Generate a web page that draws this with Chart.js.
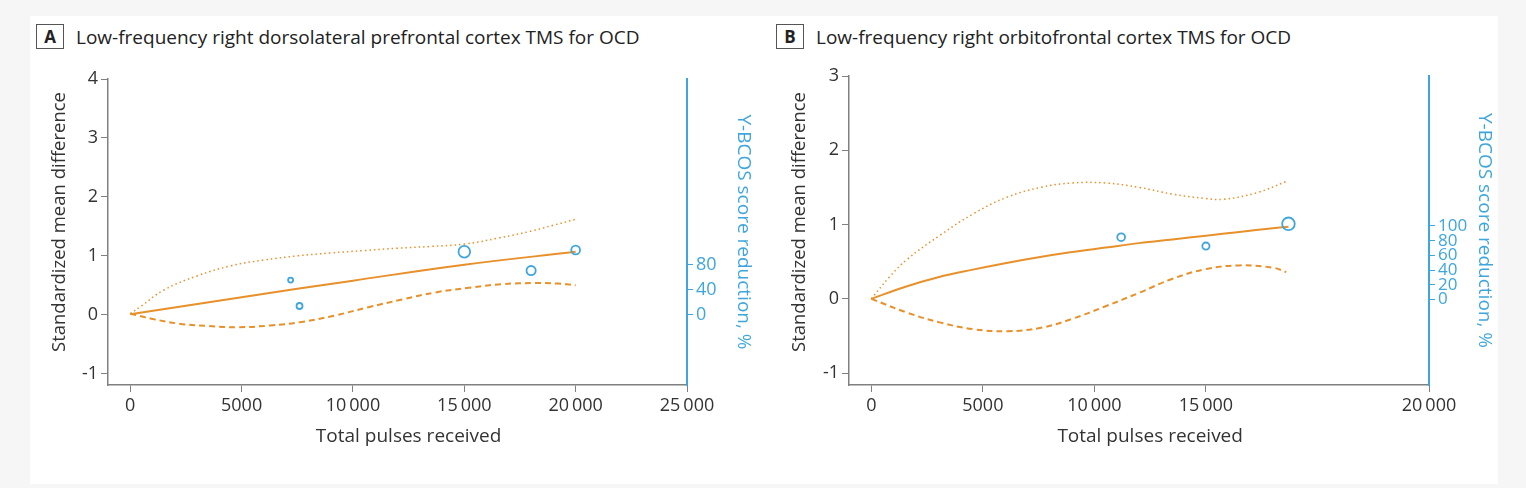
<!DOCTYPE html>
<html>
<head>
<meta charset="utf-8">
<script src="https://cdn.jsdelivr.net/npm/chart.js@4"></script>
<style>
  body { margin: 0; background: #f6f6f6; font-family: "Open Sans", "Noto Sans", sans-serif; }
  #card { position: absolute; left: 30px; top: 16px; width: 1468px; height: 468px; background: #fff; }
  .ptitle { position: absolute; top: 24px; height: 25px; display: flex; align-items: center; color: #222; font-size: 19px; white-space: nowrap; }
  .ptitle .box { box-sizing: border-box; width: 28px; height: 25px; border: 1px solid #555; font-weight: bold; font-size: 17px; display: flex; align-items: center; justify-content: center; margin-right: 12px; }
  canvas { position: absolute; top: 60px; }
</style>
</head>
<body>
<div id="card"></div>
<div class="ptitle" style="left:36px"><span class="box">A</span><span>Low-frequency right dorsolateral prefrontal cortex TMS for OCD</span></div>
<div class="ptitle" style="left:776px"><span class="box">B</span><span>Low-frequency right orbitofrontal cortex TMS for OCD</span></div>
<canvas id="chartA" width="740" height="400" style="left:30px"></canvas>
<canvas id="chartB" width="740" height="400" style="left:770px"></canvas>
<script>
// --- Panel A: dorsolateral prefrontal cortex ---
const studyPulsesA = [7200, 7600, 15000, 18000, 20000];
const studySmdA = [0.59, 0.15, 1.07, 0.75, 1.10];
const fitPulsesA = [0, 5000, 10000, 15000, 20000];
const fitSmdA = [0.01, 0.3, 0.58, 0.85, 1.07];
const upperPulsesA = [0, 500, 1500, 3000, 4500, 6000, 7500, 9000, 10500, 12000, 13500, 15000, 16500, 18000, 19000, 20000];
const upperSmdA = [0.02, 0.15, 0.42, 0.66, 0.83, 0.93, 1.0, 1.05, 1.09, 1.13, 1.16, 1.2, 1.3, 1.42, 1.52, 1.62];
const lowerPulsesA = [0, 1000, 2200, 3500, 4800, 6300, 7700, 9200, 10700, 12200, 13700, 15200, 16700, 18200, 19200, 20000];
const lowerSmdA = [0.02, -0.07, -0.15, -0.19, -0.21, -0.18, -0.12, -0.01, 0.13, 0.26, 0.38, 0.46, 0.52, 0.54, 0.53, 0.5];
const xTicksA = [0, 5000, 10000, 15000, 20000, 25000];
const xTickLabelsA = ['0', '5000', '10000', '15000', '20000', '25000'];
const yTicksA = [-1, 0, 1, 2, 3, 4];
const ybocsTicksA = [0, 40, 80];

// --- Panel B: orbitofrontal cortex ---
const studyPulsesB = [11200, 15000, 18700];
const studySmdB = [0.83, 0.71, 1.01];
const fitPulsesB = [0, 1500, 3000, 4500, 6000, 7500, 9000, 10500, 12000, 13500, 15000, 16500, 18000, 18700];
const fitSmdB = [0, 0.16, 0.29, 0.39, 0.48, 0.56, 0.63, 0.69, 0.75, 0.8, 0.85, 0.9, 0.95, 0.97];
const upperPulsesB = [0, 800, 1600, 3100, 4600, 6100, 7600, 9000, 10500, 12000, 13500, 15000, 15800, 17300, 18600];
const upperSmdB = [0, 0.29, 0.53, 0.86, 1.15, 1.37, 1.5, 1.56, 1.56, 1.5, 1.41, 1.35, 1.34, 1.43, 1.58];
const lowerPulsesB = [0, 1600, 3100, 4600, 6100, 7600, 9000, 10500, 12000, 13500, 15000, 16500, 18000, 18600];
const lowerSmdB = [0, -0.185, -0.32, -0.41, -0.436, -0.39, -0.27, -0.1, 0.08, 0.27, 0.4, 0.45, 0.42, 0.36];
const xTicksB = [0, 5000, 10000, 15000, 25000];
const xTickLabelsB = ['0', '5000', '10000', '15000', '20000'];
const yTicksB = [-1, 0, 1, 2, 3];
const ybocsTicksB = [0, 20, 40, 60, 80, 100];

// marker sizes (study weight), styling only
const markerRadiusA = [2.5, 3, 5.8, 4.6, 4.4];
const markerRadiusB = [3.9, 3.6, 6.3];

const orange = '#e8902a';
const blue = '#3ea6dc';
const axisGrey = '#808080';
const textColor = '#333';
const fontFamily = '"Open Sans", "Noto Sans", sans-serif';

Chart.defaults.font.family = fontFamily;
Chart.defaults.color = textColor;

function withSpace(s) {
    return s.length > 4 ? s.slice(0, -3) + '\u2009' + s.slice(-3) : s;
}

function pts(xs, ys) {
    return xs.map((x, i) => ({x: x, y: ys[i]}));
}

// axis titles drawn by hand so they sit where the figure has them
const axisTitlePlugin = {
    id: 'axisTitles',
    afterDraw(chart, args, opts) {
        const xs = chart.scales.x;
        const ctx = chart.ctx;
        const cx = (xs.getPixelForValue(0) + xs.getPixelForValue(opts.to)) / 2;
        ctx.save();
        ctx.fillStyle = textColor;
        ctx.textAlign = 'center';
        ctx.textBaseline = 'middle';
        ctx.font = '19px ' + fontFamily;
        ctx.fillText(opts.xText, cx, opts.xTitleY);
        ctx.translate(opts.yTitleX, opts.yTitleY);
        ctx.rotate(-Math.PI / 2);
        ctx.font = '18.5px ' + fontFamily;
        ctx.fillText(opts.yText, 0, 0);
        ctx.restore();
    }
};

function makePanel(id, p) {
    const line = {showLine: true, pointRadius: 0, borderColor: orange, tension: 0.4};
    return new Chart(document.getElementById(id), {
        type: 'scatter',
        data: {
            datasets: [
                {
                    data: pts(p.studyX, p.studyY),
                    pointRadius: p.radius,
                    pointBorderColor: blue,
                    pointBackgroundColor: 'rgba(255,255,255,0)',
                    pointBorderWidth: 1.8
                },
                Object.assign({data: pts(p.fitX, p.fitY), borderWidth: 2}, line),
                Object.assign({data: pts(p.upX, p.upY), borderWidth: 1.5, borderDash: [1.5, 3]}, line),
                Object.assign({data: pts(p.loX, p.loY), borderWidth: 2, borderDash: [6, 4]}, line)
            ]
        },
        options: {
            responsive: false,
            animation: false,
            devicePixelRatio: 1,
            layout: {padding: {left: 15, right: p.padRight, top: p.padTop, bottom: 0}},
            plugins: {
                legend: {display: false},
                tooltip: {enabled: false},
                axisTitles: {
                    xText: 'Total pulses received', to: 25000, xTitleY: 377,
                    yText: 'Standardized mean difference', yTitleX: 30, yTitleY: 162
                }
            },
            scales: {
                x: {
                    type: 'linear', min: -1000, max: 25000,
                    afterBuildTicks: s => { s.ticks = p.xTicks.map(v => ({value: v})); },
                    afterFit: s => { s.height = 75; },
                    ticks: {
                        callback: (v, i) => withSpace(p.xLabels[i]),
                        font: {size: 18}, padding: 3, autoSkip: false, maxRotation: 0
                    },
                    grid: {drawOnChartArea: false, tickLength: 7, color: axisGrey},
                    border: {color: axisGrey, width: 1.5}
                },
                y: {
                    position: 'left', min: p.yMin, max: p.yMax,
                    afterBuildTicks: s => { s.ticks = p.yTicks.map(v => ({value: v})); },
                    afterFit: s => { s.width = p.leftW; },
                    ticks: {font: {size: 18}, padding: 3, autoSkip: false},
                    grid: {drawOnChartArea: false, tickLength: 7, color: axisGrey},
                    border: {color: axisGrey, width: 1.5}
                },
                y2: {
                    position: 'right', min: p.rMin, max: p.rMax,
                    afterBuildTicks: s => { s.ticks = p.rTicks.map(v => ({value: v})); },
                    afterFit: s => { s.width = p.rightW; },
                    ticks: {font: {size: p.rFont}, padding: 3, autoSkip: false, color: blue},
                    grid: {drawOnChartArea: false, tickLength: 6, color: blue},
                    border: {color: blue, width: 2},
                    title: {display: true, text: 'Y-BCOS score reduction, %', font: {size: 19}, color: blue}
                }
            }
        },
        plugins: [axisTitlePlugin]
    });
}

makePanel('chartA', {
    studyX: studyPulsesA, studyY: studySmdA, radius: markerRadiusA,
    fitX: fitPulsesA, fitY: fitSmdA,
    upX: upperPulsesA, upY: upperSmdA,
    loX: lowerPulsesA, loY: lowerSmdA,
    xTicks: xTicksA, xLabels: xTickLabelsA,
    yTicks: yTicksA, yMin: -1.19, yMax: 4,
    rTicks: ybocsTicksA, rMin: -113.9, rMax: 380.5, rFont: 18,
    padTop: 19, padRight: 11, leftW: 63, rightW: 72
});

makePanel('chartB', {
    studyX: studyPulsesB, studyY: studySmdB, radius: markerRadiusB,
    fitX: fitPulsesB, fitY: fitSmdB,
    upX: upperPulsesB, upY: upperSmdB,
    loX: lowerPulsesB, loY: lowerSmdB,
    xTicks: xTicksB, xLabels: xTickLabelsB,
    yTicks: yTicksB, yMin: -1.16, yMax: 3,
    rTicks: ybocsTicksB, rMin: -116.3, rMax: 304, rFont: 17,
    padTop: 16, padRight: 10, leftW: 64, rightW: 71
});
</script>
</body>
</html>
